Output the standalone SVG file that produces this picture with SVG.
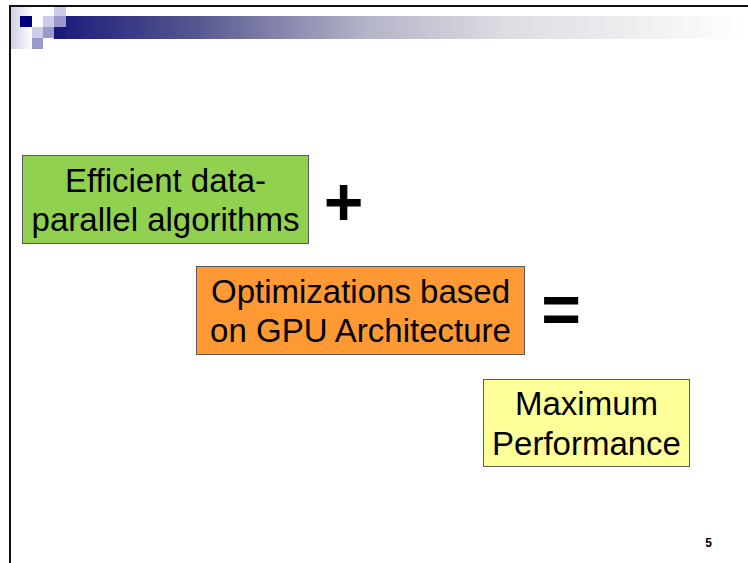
<svg xmlns="http://www.w3.org/2000/svg" width="748" height="563" viewBox="0 0 748 563">
<defs>
<linearGradient id="banner" x1="54" y1="0" x2="748" y2="0" gradientUnits="userSpaceOnUse">
<stop offset="0" stop-color="#1a1a7a"/>
<stop offset="0.2" stop-color="#55558f"/>
<stop offset="0.45" stop-color="#b4b4c8"/>
<stop offset="0.65" stop-color="#dcdce2"/>
<stop offset="1" stop-color="#ffffff"/>
</linearGradient>
<linearGradient id="side" x1="0" y1="0" x2="1" y2="0">
<stop offset="0" stop-color="#cfcfe6"/>
<stop offset="1" stop-color="#ffffff"/>
</linearGradient>
<style>
.box{stroke:#5a5a5a;stroke-width:1}
.t{font-family:"Liberation Sans",Arial,sans-serif;font-size:33px;fill:#000;text-anchor:middle}
.op{font-family:"Liberation Sans",Arial,sans-serif;font-size:68px;font-weight:bold;fill:#000;text-anchor:middle}
.lt{fill:#ccccea}
.md{fill:#9999cc}
</style>
</defs>
<rect width="748" height="563" fill="#fff"/>
<g id="header">
<rect x="11" y="7" width="21" height="42" fill="url(#side)"/>
<rect x="54" y="16" width="694" height="23" fill="url(#banner)"/>
<rect x="54" y="27" width="12" height="12" fill="#1a1a7a"/>
<rect x="20" y="16" width="12" height="11" fill="#00007f"/>
<rect class="lt" x="43" y="16" width="11" height="11"/>
<rect class="lt" x="54" y="7" width="12" height="9"/>
<rect class="md" x="54" y="16" width="12" height="11"/>
<rect class="lt" x="32" y="27" width="11" height="11"/>
<rect class="md" x="43" y="27" width="11" height="11"/>
<rect class="md" x="32" y="38" width="11" height="11"/>
<path d="M10 563 V6 H748" fill="none" stroke="#111" stroke-width="2"/>
</g>
<g id="connectors"></g>
<g id="node-efficient">
<rect class="box" x="22.5" y="155.5" width="286" height="88" fill="#92d050"/>
<text class="t" x="165.5" y="191.5">Efficient data-</text>
<text class="t" x="165.5" y="231">parallel algorithms</text>
</g>
<g id="plus">
<text class="op" x="343.5" y="225">+</text>
</g>
<g id="node-optimizations">
<rect class="box" x="196.5" y="266.5" width="328" height="88" fill="#ff9933"/>
<text class="t" x="360.5" y="303">Optimizations based</text>
<text class="t" x="360.5" y="342">on GPU Architecture</text>
</g>
<g id="equals">
<text class="op" x="561" y="333">=</text>
</g>
<g id="node-performance">
<rect class="box" x="483.5" y="379.5" width="206" height="87" fill="#ffff99"/>
<text class="t" x="586.5" y="415">Maximum</text>
<text class="t" x="586.5" y="455">Performance</text>
</g>
<g id="page-number">
<text x="708.5" y="547" font-family="'Liberation Sans',Arial,sans-serif" font-size="12" font-weight="bold" text-anchor="middle">5</text>
</g>
</svg>
